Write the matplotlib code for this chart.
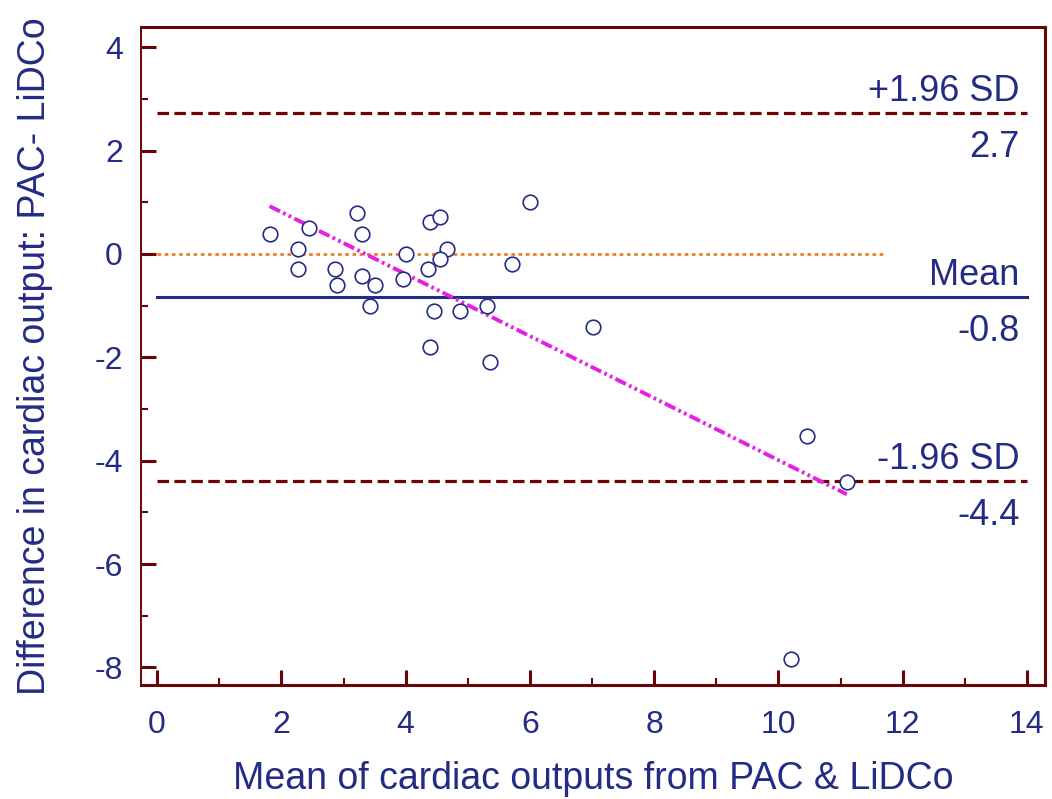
import numpy as np
import matplotlib
matplotlib.use("Agg")
import matplotlib.pyplot as plt
from matplotlib.ticker import MultipleLocator

plt.rcParams['font.family'] = ['Liberation Sans', 'DejaVu Sans']
plt.rcParams['axes.unicode_minus'] = False

# Bland-Altman data: mean of the two methods vs. their difference
mean_co = [1.81, 2.45, 2.26, 2.26, 2.87, 2.90, 3.21, 3.30, 3.30, 3.51,
           3.42, 4.00, 3.95, 4.36, 4.39, 4.55, 4.67, 4.55, 4.46, 4.40,
           4.87, 5.31, 5.35, 5.71, 6.00, 7.02, 10.46, 11.10, 10.21]
diff_co = [0.39, 0.50, 0.10, -0.30, -0.30, -0.60, 0.79, 0.39, -0.42, -0.60,
           -1.00, 0.00, -0.49, -0.30, 0.61, 0.72, 0.10, -0.10, -1.11, -1.81,
           -1.11, -1.00, -2.10, -0.20, 1.01, -1.41, -3.52, -4.41, -7.84]

bias = -0.84
loa_half_width = 3.56
loa_upper = bias + loa_half_width
loa_lower = bias - loa_half_width

# regression of difference on mean
reg_intercept = 2.01
reg_slope = -0.60

x_ticks = [0, 2, 4, 6, 8, 10, 12, 14]
y_ticks = [-8, -6, -4, -2, 0, 2, 4]

x_label = "Mean of cardiac outputs from PAC & LiDCo"
y_label = "Difference in cardiac output: PAC- LiDCo"

MAROON = "#6B0505"
NAVY = "#232C84"
ORANGE = "#EB7F24"
MAGENTA = "#E61EE6"

fig = plt.figure(figsize=(10.52, 7.99), dpi=100)
ax = fig.add_axes([0.134, 0.1427, 0.8593, 0.8235])
ax.set_xlim(-0.26, 14.29)
ax.set_ylim(-8.34, 4.39)

# reference lines
line_x0, line_x1 = 0, 14
ax.plot([line_x0, line_x1], [loa_upper, loa_upper], color=MAROON, lw=2.3,
        dashes=(3.6, 1.7), dash_capstyle='butt')
ax.plot([line_x0, line_x1], [loa_lower, loa_lower], color=MAROON, lw=2.3,
        dashes=(3.6, 1.7), dash_capstyle='butt')
ax.plot([line_x0, line_x1], [bias, bias], color=NAVY, lw=2.2)
ax.plot([line_x0, 11.7], [0, 0], color=ORANGE, lw=2.0, dashes=(1.3, 1.3),
        dash_capstyle='butt')

# regression line over the range of the data
rx = np.array([min(mean_co), max(mean_co)])
ax.plot(rx, reg_intercept + reg_slope * rx, color=MAGENTA, lw=2.8,
        dashes=(3.0, 0.9, 0.7, 0.9, 0.7, 0.9), dash_capstyle='butt')

# data points
ax.plot(mean_co, diff_co, linestyle='none', marker='o', markersize=10.5,
        markerfacecolor='white', markeredgecolor=NAVY, markeredgewidth=1.2)

# labels for the limits of agreement and the mean
tx = 13.88
label_kw = dict(color=NAVY, fontsize=26, ha='right', textcoords='offset points')
for val, name in [(loa_upper, "+1.96 SD"), (bias, "Mean"), (loa_lower, "-1.96 SD")]:
    ax.annotate(name, (tx, val), xytext=(0, 9), va='baseline', **label_kw)
    ax.annotate(f"{val:.1f}", (tx, val), xytext=(0, -12), va='top', **label_kw)

# axes styling
ax.set_xticks(x_ticks)
ax.set_yticks(y_ticks)
ax.xaxis.set_minor_locator(MultipleLocator(1))
ax.yaxis.set_minor_locator(MultipleLocator(1))
ax.tick_params(which='major', direction='in', length=10.8, width=2.2,
               color=MAROON, labelcolor=NAVY, labelsize=23,
               top=False, right=False)
ax.tick_params(which='minor', direction='in', length=5, width=1.5,
               color=MAROON, top=False, right=False)
ax.tick_params(axis='y', which='major', pad=13)
ax.tick_params(axis='x', which='major', pad=18)
for side, sp in ax.spines.items():
    sp.set_color(MAROON)
    sp.set_linewidth(2.2)
ax.spines['left'].set_linewidth(1.4)

ax.set_xlabel(x_label, fontsize=27, color=NAVY, labelpad=15)
ax.set_ylabel(y_label, fontsize=27, color=NAVY, labelpad=30)

fig.savefig("out.png", dpi=100, facecolor='white')
